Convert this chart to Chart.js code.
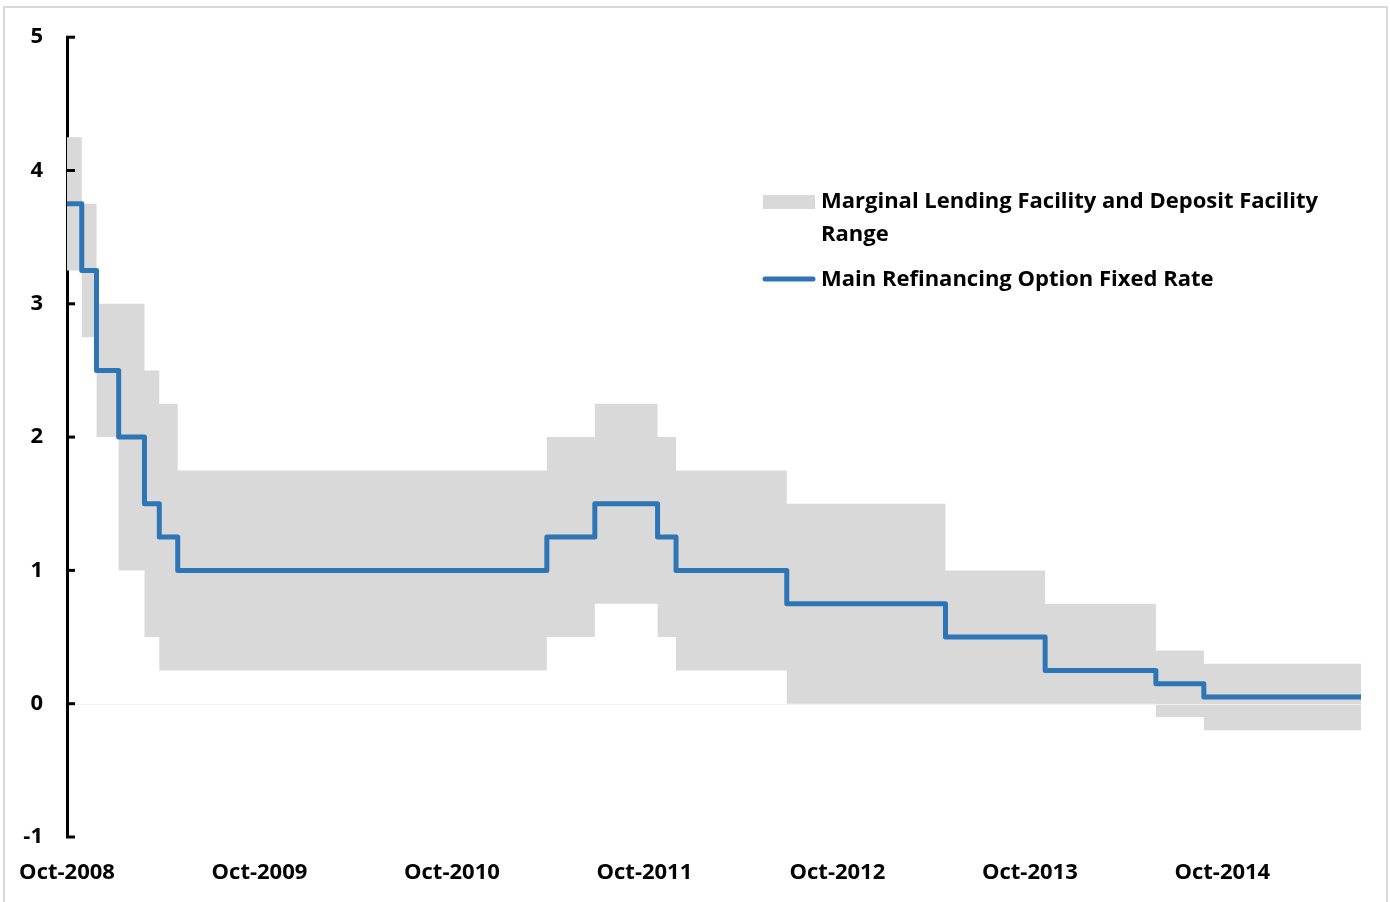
<!DOCTYPE html>
<html>
<head>
<meta charset="utf-8">
<script src="https://cdn.jsdelivr.net/npm/chart.js@4.4.1/dist/chart.umd.min.js"></script>
<style>
  html, body { margin: 0; padding: 0; background: #fff; }
  #wrap { position: relative; width: 1390px; height: 902px; }
  canvas { display: block; }
</style>
</head>
<body>
<div id="wrap"><canvas id="c" width="1390" height="902"></canvas></div>
<script>
// ---- Data (ECB policy rates, %) ----
const stepDates = ['2008-10-15','2008-11-12','2008-12-10','2009-01-21','2009-03-11','2009-04-08','2009-05-13',
                   '2011-04-13','2011-07-13','2011-11-09','2011-12-14','2012-07-11','2013-05-08','2013-11-13',
                   '2014-06-11','2014-09-10','2015-07-05'];
const mroRate = [3.75, 3.25, 2.50, 2.00, 1.50, 1.25, 1.00, 1.25, 1.50, 1.25, 1.00, 0.75, 0.50, 0.25, 0.15, 0.05, 0.05];
const mlfRate = [4.25, 3.75, 3.00, 3.00, 2.50, 2.25, 1.75, 2.00, 2.25, 2.00, 1.75, 1.50, 1.00, 0.75, 0.40, 0.30, 0.30];
const dfRate  = [3.25, 2.75, 2.00, 1.00, 0.50, 0.25, 0.25, 0.50, 0.75, 0.50, 0.25, 0.00, 0.00, 0.00, -0.10, -0.20, -0.20];
const tickDates  = ['2008-10-15','2009-10-15','2010-10-15','2011-10-15','2012-10-15','2013-10-15','2014-10-15'];
const tickLabels = ['Oct-2008','Oct-2009','Oct-2010','Oct-2011','Oct-2012','Oct-2013','Oct-2014'];
const bandLabel = 'Marginal Lending Facility and Deposit Facility Range';
const mroLabel = 'Main Refinancing Option Fixed Rate';

const baseDate = Date.UTC(2008, 9, 15);
function dayNum(s) {
  const p = s.split('-').map(Number);
  return (Date.UTC(p[0], p[1] - 1, p[2]) - baseDate) / 86400000;
}
const xs = stepDates.map(dayNum);
const pts = arr => arr.map((v, i) => ({ x: xs[i], y: v }));

const FONT = '"Open Sans", "Liberation Sans", sans-serif';
const BLUE = '#2e75b6';
const GREY = '#d9d9d9';

// pick font sizes so text widths resemble the reference (Calibri-like widths)
const mctx = document.createElement('canvas').getContext('2d');
function fitSize(text, target) {
  mctx.font = 'bold 100px ' + FONT;
  return Math.min(22, Math.round(100 * target / mctx.measureText(text).width * 10) / 10);
}
const legendSize = fitSize('Marginal Lending Facility and Deposit Facility', 498);
const axisSize = 22;

const decor = {
  id: 'decor',
  beforeDraw(chart) {
    const ctx = chart.ctx;
    ctx.save();
    ctx.fillStyle = '#fff';
    ctx.fillRect(0, 0, chart.width, chart.height);
    ctx.strokeStyle = '#d9d9d9';
    ctx.lineWidth = 2;
    ctx.strokeRect(4, 7, 1383, 900);
    ctx.restore();
  },
  afterDatasetsDraw(chart) {
    const ctx = chart.ctx, y = chart.scales.y, x = chart.scales.x;
    const y0 = Math.round(y.getPixelForValue(0)) + 0.5;
    ctx.save();
    ctx.strokeStyle = '#f0f0f0';
    ctx.lineWidth = 1;
    ctx.beginPath();
    ctx.moveTo(x.left + 2, y0);
    ctx.lineTo(x.right, y0);
    ctx.stroke();
    ctx.restore();
  },
  afterDraw(chart) {
    const ctx = chart.ctx, y = chart.scales.y;
    ctx.save();
    // inward tick marks on y axis
    ctx.strokeStyle = '#000';
    ctx.lineWidth = 3;
    y.ticks.forEach(t => {
      const py = y.getPixelForValue(t.value);
      ctx.beginPath();
      ctx.moveTo(chart.chartArea.left - 1, py);
      ctx.lineTo(chart.chartArea.left + 8, py);
      ctx.stroke();
    });
    // legend
    ctx.fillStyle = GREY;
    ctx.fillRect(763, 195, 52, 14);
    ctx.strokeStyle = BLUE;
    ctx.lineWidth = 5;
    ctx.lineCap = 'round';
    ctx.beginPath();
    ctx.moveTo(765, 279);
    ctx.lineTo(813, 279);
    ctx.stroke();
    ctx.fillStyle = '#000';
    ctx.font = 'bold ' + legendSize + 'px ' + FONT;
    ctx.textBaseline = 'middle';
    ctx.textAlign = 'left';
    const words = bandLabel.split(' ');
    ctx.fillText(words.slice(0, 6).join(' '), 821, 202);
    ctx.fillText(words.slice(6).join(' '), 821, 235);
    ctx.fillText(mroLabel, 821, 280);
    ctx.restore();
  }
};

new Chart(document.getElementById('c'), {
  type: 'line',
  data: {
    datasets: [
      { label: mroLabel, data: pts(mroRate), stepped: true, borderColor: BLUE, borderWidth: 5,
        borderJoinStyle: 'round', borderCapStyle: 'butt', pointRadius: 0, fill: false, order: 0 },
      { label: bandLabel, data: pts(mlfRate), stepped: true, borderWidth: 0, borderColor: 'rgba(0,0,0,0)',
        backgroundColor: GREY, pointRadius: 0, fill: '+1', order: 1 },
      { label: 'Deposit Facility', data: pts(dfRate), stepped: true, borderWidth: 0, borderColor: 'rgba(0,0,0,0)',
        pointRadius: 0, fill: false, order: 2 }
    ]
  },
  options: {
    responsive: false,
    animation: false,
    events: [],
    layout: { padding: { left: 0, right: 29, top: 37, bottom: 0 } },
    plugins: { legend: { display: false }, tooltip: { enabled: false } },
    scales: {
      x: {
        type: 'linear',
        min: 0,
        max: xs[xs.length - 1],
        afterBuildTicks(scale) { scale.ticks = tickDates.map(d => ({ value: dayNum(d) })); },
        afterFit(scale) { scale.height = 65; scale.paddingLeft = 0; scale.paddingRight = 0; },
        grid: { display: false, drawTicks: false },
        border: { display: false },
        ticks: {
          autoSkip: false, maxRotation: 0, padding: 23, color: '#000',
          font: { family: FONT, size: axisSize, weight: 'bold' },
          callback(v, i) { return tickLabels[i]; }
        }
      },
      y: {
        min: -1, max: 5,
        afterFit(scale) { scale.width = 67; },
        grid: { display: false, drawTicks: false },
        border: { display: true, color: '#000', width: 3 },
        ticks: { stepSize: 1, padding: 24, color: '#000', font: { family: FONT, size: axisSize, weight: 'bold' } }
      }
    }
  },
  plugins: [decor]
});
</script>
</body>
</html>
